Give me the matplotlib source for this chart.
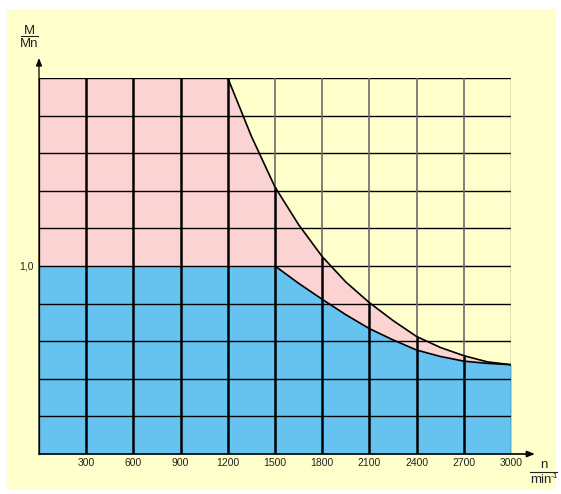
import matplotlib
matplotlib.use("Agg")
import matplotlib.pyplot as plt
import numpy as np
from matplotlib.patches import Rectangle
from matplotlib.lines import Line2D

plt.rcParams['font.family'] = ['Liberation Sans', 'DejaVu Sans']

# Data
n_upper = [1200, 1350, 1500, 1650, 1800, 1950, 2100, 2250, 2400, 2550, 2700, 2850, 3000]
m_upper = [2.0, 1.69, 1.42, 1.22, 1.05, 0.915, 0.805, 0.71, 0.625, 0.567, 0.523, 0.49, 0.475]
n_lower = [1500, 1650, 1800, 1950, 2100, 2250, 2400, 2550, 2700, 2850, 3000]
m_lower = [1.0, 0.908, 0.823, 0.741, 0.667, 0.607, 0.553, 0.519, 0.494, 0.482, 0.475]
x_ticks = [300, 600, 900, 1200, 1500, 1800, 2100, 2400, 2700, 3000]
x_labels = ['300', '600', '900', '1200', '1500', '1800', '2100', '2400', '2700', '3000']
y_grid = [0.2, 0.4, 0.6, 0.8, 1.0, 1.2, 1.4, 1.6, 1.8, 2.0]

YELLOW = '#FFFFCC'
PINK = '#FBD3D3'
BLUE = '#66C3F0'

W, H = 561, 494
fig = plt.figure(figsize=(W / 100, H / 100), dpi=100, facecolor='white')

def fx(px):
    return px / W

def fy(py):
    return 1 - py / H

# yellow panel
fig.patches.append(Rectangle((fx(7), fy(489)), fx(556) - fx(7), fy(9) - fy(489),
                             transform=fig.transFigure, facecolor=YELLOW,
                             edgecolor='none', zorder=-10))

ax = fig.add_axes([fx(39), fy(454), fx(511) - fx(39), fy(78) - fy(454)])
ax.set_zorder(1)
ax.set_xlim(0, 3000)
ax.set_ylim(0, 2.0)
ax.patch.set_visible(False)
for s in ax.spines.values():
    s.set_visible(False)
ax.set_xticks([])
ax.set_yticks([])

up_x = np.array([0] + n_upper, dtype=float)
up_y = np.array([2.0] + m_upper)
lo_x = np.array([0] + n_lower, dtype=float)
lo_y = np.array([1.0] + m_lower)

# fills
ax.fill_between(up_x, 0, up_y, color=PINK, lw=0, zorder=1)
ax.fill_between(lo_x, 0, lo_y, color=BLUE, lw=0, zorder=2)

# horizontal grid
for y in y_grid:
    ax.plot([0, 3000], [y, y], color='black', lw=1.0, zorder=3, solid_capstyle='butt')

# vertical grid
for xv in x_ticks:
    top = np.interp(xv, up_x, up_y)
    if xv < 3000:
        ax.plot([xv, xv], [0, top], color='black', lw=1.8, zorder=4, solid_capstyle='butt')
        if top < 2.0:
            ax.plot([xv, xv], [top, 2.0], color='#6a6a6a', lw=1.2, zorder=3, solid_capstyle='butt')
    else:
        ax.plot([xv, xv], [0, top], color='black', lw=0.9, zorder=4, solid_capstyle='butt')
        ax.plot([xv, xv], [top, 2.0], color='#6a6a6a', lw=1.0, zorder=3, solid_capstyle='butt')

# curves
ax.plot(n_upper, m_upper, color='black', lw=1.2, zorder=5)
ax.plot(n_lower, m_lower, color='black', lw=1.2, zorder=5)

# axes with arrows
ax.plot([0, 0], [0, 2.0], color='black', lw=0.9, zorder=6, clip_on=False)
ax.annotate('', xy=(0, 2.106), xytext=(0, 0), annotation_clip=False,
            arrowprops=dict(arrowstyle='-|>,head_length=0.45,head_width=0.18',
                            color='black', lw=0.9, shrinkA=0, shrinkB=0), zorder=6)
ax.annotate('', xy=(3152, 0), xytext=(0, 0), annotation_clip=False,
            arrowprops=dict(arrowstyle='-|>,head_length=0.45,head_width=0.18',
                            color='black', lw=1.2, shrinkA=0, shrinkB=0), zorder=6)

# tick labels
for xv, lab in zip(x_ticks, x_labels):
    ax.text(xv, -0.048, lab, ha='center', va='center', fontsize=7.5, color='#222222')
ax.text(-32, 1.0, '1,0', ha='right', va='center', fontsize=7.5, color='#222222')

# axis titles as fractions
fig.text(fx(29.5), fy(34.5), 'M', ha='center', va='baseline', fontsize=9.5, color='#222222')
fig.add_artist(Line2D([fx(21), fx(38)], [fy(35.8), fy(35.8)], color='#222222', lw=0.8,
                      transform=fig.transFigure))
fig.text(fx(29.5), fy(47), 'Mn', ha='center', va='baseline', fontsize=9.5, color='#222222')

fig.text(fx(544), fy(468), 'n', ha='center', va='baseline', fontsize=9.5, color='#222222')
fig.add_artist(Line2D([fx(530), fx(557)], [fy(472.3), fy(472.3)], color='#222222', lw=0.8,
                      transform=fig.transFigure))
fig.text(fx(541), fy(483), 'min', ha='center', va='baseline', fontsize=9.5, color='#222222')
fig.text(fx(554.5), fy(477.5), '-1', ha='center', va='baseline', fontsize=6, color='#222222')

fig.savefig('out.png', dpi=100, facecolor='white')
